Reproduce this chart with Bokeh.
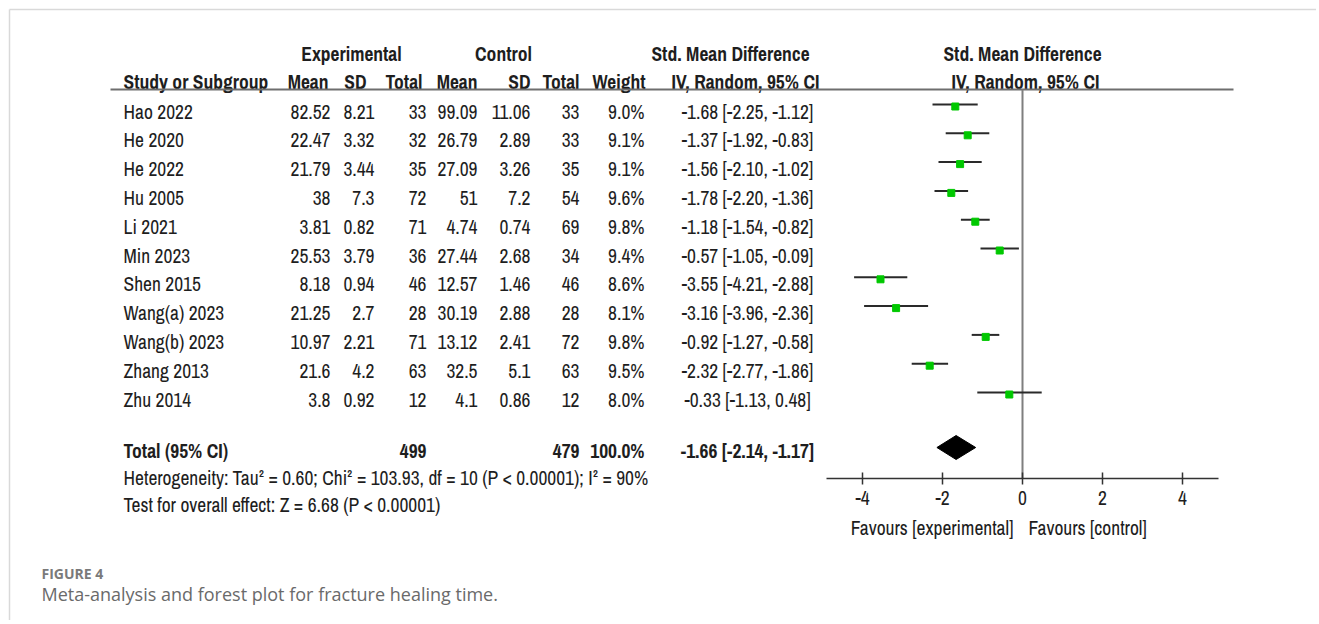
from bokeh.plotting import figure
from bokeh.models import Range1d, LinearAxis, FixedTicker
from bokeh.core.properties import value
from bokeh.embed import file_html
from bokeh.resources import INLINE

# ---------------- data ----------------
studies = ["Hao 2022", "He 2020", "He 2022", "Hu 2005", "Li 2021", "Min 2023",
           "Shen 2015", "Wang(a) 2023", "Wang(b) 2023", "Zhang 2013", "Zhu 2014"]
exp_mean = [82.52, 22.47, 21.79, 38, 3.81, 25.53, 8.18, 21.25, 10.97, 21.6, 3.8]
exp_sd = [8.21, 3.32, 3.44, 7.3, 0.82, 3.79, 0.94, 2.7, 2.21, 4.2, 0.92]
exp_total = [33, 32, 35, 72, 71, 36, 46, 28, 71, 63, 12]
ctl_mean = [99.09, 26.79, 27.09, 51, 4.74, 27.44, 12.57, 30.19, 13.12, 32.5, 4.1]
ctl_sd = [11.06, 2.89, 3.26, 7.2, 0.74, 2.68, 1.46, 2.88, 2.41, 5.1, 0.86]
ctl_total = [33, 33, 35, 54, 69, 34, 46, 28, 72, 63, 12]
weight = [9.0, 9.1, 9.1, 9.6, 9.8, 9.4, 8.6, 8.1, 9.8, 9.5, 8.0]
smd = [-1.68, -1.37, -1.56, -1.78, -1.18, -0.57, -3.55, -3.16, -0.92, -2.32, -0.33]
ci_lo = [-2.25, -1.92, -2.10, -2.20, -1.54, -1.05, -4.21, -3.96, -1.27, -2.77, -1.13]
ci_hi = [-1.12, -0.83, -1.02, -1.36, -0.82, -0.09, -2.88, -2.36, -0.58, -1.86, 0.48]

total_label = "Total (95% CI)"
total_exp = 499
total_ctl = 479
total_weight = 100.0
total_smd = -1.66
total_lo = -2.14
total_hi = -1.17

heterogeneity = "Heterogeneity: Tau\u00b2 = 0.60; Chi\u00b2 = 103.93, df = 10 (P < 0.00001); I\u00b2 = 90%"
overall_effect = "Test for overall effect: Z = 6.68 (P < 0.00001)"

axis_ticks = [-4, -2, 0, 2, 4]
axis_tick_labels = ["-4", "-2", "0", "2", "4"]
favours_left = "Favours [experimental]"
favours_right = "Favours [control]"

fig_label = "FIGURE 4"
caption = "Meta-analysis and forest plot for fracture healing time."

# ---------------- layout constants ----------------
W, H = 1316, 620
ZERO_X = 1022
PX_PER_UNIT = 40.0
ROW0 = 111.0
ROW_H = 28.8
FONT = "Archivo Narrow"
FS = "19.5px"
TEXT = "#1e1e1e"


def row_y(i):
    return ROW0 + ROW_H * i


p = figure(width=W, height=H,
           x_range=Range1d(-ZERO_X / PX_PER_UNIT, (W - ZERO_X) / PX_PER_UNIT),
           y_range=Range1d(H, 0),
           x_axis_type=None, y_axis_type=None,
           toolbar_location=None, output_backend="svg",
           min_border=0, outline_line_color=None,
           background_fill_color="white", border_fill_color="white")
p.extra_x_ranges = {"px": Range1d(0, W)}
p.xgrid.visible = False
p.ygrid.visible = False


def txt(xs, ys, texts, align="left", bold=False, size=FS, color=TEXT, font=FONT):
    p.text(x=xs, y=ys, text=texts, x_range_name="px",
           text_align=align, text_baseline="middle",
           text_font=value(font), text_font_size=size,
           text_font_style="bold" if bold else "normal", text_color=color)


def fmt(v):
    return f"{v:g}"


# card border (top and left edges)
p.segment(x0=[9, 9], y0=[9, 9], x1=[W, 9], y1=[9, H],
          x_range_name="px", line_color="#d9d9d9", line_width=1.5)

# ---------------- headers ----------------
h1 = row_y(-2)
h2 = row_y(-1) - 1
txt([351], [h1], ["Experimental"], "center", True)
txt([503], [h1], ["Control"], "center", True)
txt([730], [h1], ["Std. Mean Difference"], "center", True)
txt([1022], [h1], ["Std. Mean Difference"], "center", True)
txt([123], [h2], ["Study or Subgroup"], "left", True)
txt([328, 477], [h2, h2], ["Mean", "Mean"], "right", True)
txt([366, 530], [h2, h2], ["SD", "SD"], "right", True)
txt([422, 579], [h2, h2], ["Total", "Total"], "right", True)
txt([645], [h2], ["Weight"], "right", True)
txt([745, 1025], [h2, h2], ["IV, Random, 95% CI", "IV, Random, 95% CI"], "center", True)

# header rule
p.segment(x0=[110], y0=[89], x1=[1233], y1=[89], x_range_name="px",
          line_color="#6e6e6e", line_width=2)

# ---------------- study rows ----------------
ys = [row_y(i) for i in range(len(studies))]
n = len(studies)
txt([123] * n, ys, studies, "left")
txt([330] * n, ys, [fmt(v) for v in exp_mean], "right")
txt([374] * n, ys, [fmt(v) for v in exp_sd], "right")
txt([426] * n, ys, [fmt(v) for v in exp_total], "right")
txt([477] * n, ys, [fmt(v) for v in ctl_mean], "right")
txt([530] * n, ys, [fmt(v) for v in ctl_sd], "right")
txt([579] * n, ys, [fmt(v) for v in ctl_total], "right")
txt([644] * n, ys, [f"{w:.1f}%" for w in weight], "right")
txt([747] * n, ys, [f"{m:.2f} [{a:.2f}, {b:.2f}]" for m, a, b in zip(smd, ci_lo, ci_hi)], "center")

# ---------------- total row ----------------
yt = 450
txt([123], [yt], [total_label], "left", True)
txt([426], [yt], [fmt(total_exp)], "right", True)
txt([579], [yt], [fmt(total_ctl)], "right", True)
txt([644], [yt], [f"{total_weight:.1f}%"], "right", True)
txt([747], [yt], [f"{total_smd:.2f} [{total_lo:.2f}, {total_hi:.2f}]"], "center", True)

txt([123], [477], [heterogeneity], "left")
txt([123], [504], [overall_effect], "left")

# ---------------- forest plot ----------------
AXIS_Y = 478
p.segment(x0=[0], y0=[89], x1=[0], y1=[AXIS_Y], line_color="#7f7f7f", line_width=2)

line_ys = [y - 7 for y in ys]
p.segment(x0=ci_lo, y0=line_ys, x1=ci_hi, y1=line_ys, line_color="#2a2a2a", line_width=2)
p.scatter(x=smd, y=[y - 5 for y in ys], marker="square", size=7,
          fill_color="#00c800", line_color="#00c800")

dy = 447
p.patch(x=[total_lo, total_smd, total_hi, total_smd],
        y=[dy, dy - 12, dy, dy + 12], fill_color="black", line_color="black")

ax = LinearAxis(fixed_location=AXIS_Y, bounds=(-4.9, 4.9),
                ticker=FixedTicker(ticks=axis_ticks),
                major_label_overrides=dict(zip(axis_ticks, axis_tick_labels)))
ax.axis_line_color = "#333333"
ax.axis_line_width = 1.5
ax.major_tick_line_color = "#333333"
ax.major_tick_line_width = 1.5
ax.major_tick_in = 6
ax.major_tick_out = 6
ax.minor_tick_line_color = None
ax.major_label_standoff = 6
ax.major_label_text_font = FONT
ax.major_label_text_font_size = FS
ax.major_label_text_color = TEXT
p.add_layout(ax, "below")

txt([1013], [527], [favours_left], "right")
txt([1028], [527], [favours_right], "left")

# ---------------- caption ----------------
txt([41], [573], [fig_label], "left", True, "14px", "#7a7a7a", "Open Sans")
txt([41], [593], [caption], "left", False, "18px", "#6a6a6a", "Open Sans")

open("out.html", "w").write(file_html(p, INLINE))
